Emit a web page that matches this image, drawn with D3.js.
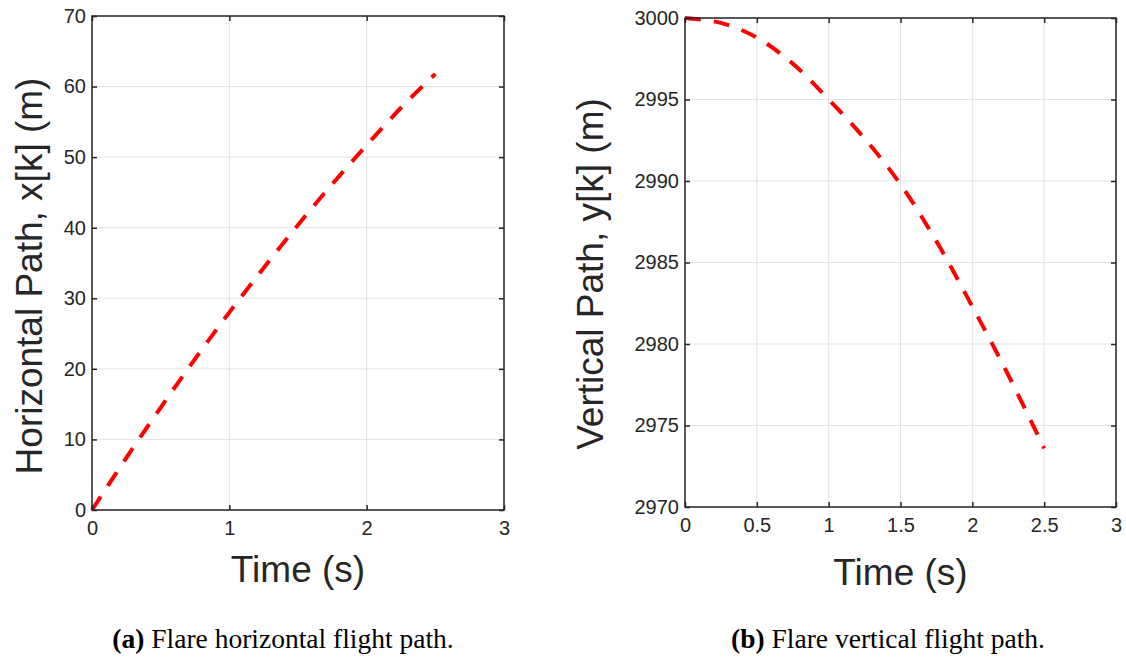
<!DOCTYPE html>
<html>
<head>
<meta charset="utf-8">
<script src="https://cdn.jsdelivr.net/npm/d3@7/dist/d3.min.js"></script>
<style>
  html, body { margin: 0; padding: 0; background: #fff; }
  svg { display: block; }
  .tick text { font-family: "Liberation Sans", Arial, sans-serif; }
</style>
</head>
<body>
<svg id="chart" width="1126" height="660"></svg>
<script>
// Flare trajectory samples, time in seconds
const time = [0, 0.25, 0.5, 0.75, 1.0, 1.25, 1.5, 1.75, 2.0, 2.25, 2.5];
// Horizontal position x[k] (m)
const horizontalPath = [0, 7.4, 14.5, 21.4, 28.0, 34.3, 40.4, 46.2, 51.7, 57.0, 61.8];
// Vertical position y[k] (m)
const verticalPath = [3000, 2999.7, 2998.8, 2997.2, 2995.0, 2992.6, 2989.8, 2986.3, 2982.3, 2978.1, 2973.6];

const leftXTicks = [0, 1, 2, 3];
const leftYTicks = [0, 10, 20, 30, 40, 50, 60, 70];
const rightXTicks = [0, 0.5, 1, 1.5, 2, 2.5, 3];
const rightYTicks = [2970, 2975, 2980, 2985, 2990, 2995, 3000];

const svg = d3.select("#chart");
const axisColor = "#262626";
const gridColor = "#e3e3e3";

function panel(opts) {
  const { box, xDomain, yDomain, xTicks, yTicks, xs, ys, yLabel, yLabelX, yLabelY, xLabelY, caption, captionTag, captionX } = opts;
  const x = d3.scaleLinear().domain(xDomain).range([box.left, box.right]);
  const y = d3.scaleLinear().domain(yDomain).range([box.bottom, box.top]);
  const g = svg.append("g");

  // grid
  g.append("g").selectAll("line").data(xTicks).join("line")
    .attr("x1", d => x(d)).attr("x2", d => x(d))
    .attr("y1", box.top).attr("y2", box.bottom)
    .attr("stroke", gridColor).attr("stroke-width", 1);
  g.append("g").selectAll("line").data(yTicks).join("line")
    .attr("x1", box.left).attr("x2", box.right)
    .attr("y1", d => y(d)).attr("y2", d => y(d))
    .attr("stroke", gridColor).attr("stroke-width", 1);

  // data line
  const pts = xs.map((t, i) => [t, ys[i]]);
  g.append("path").datum(pts)
    .attr("d", d3.line().x(d => x(d[0])).y(d => y(d[1])).curve(d3.curveCatmullRom))
    .attr("fill", "none").attr("stroke", "#ff0000")
    .attr("stroke-width", 4).attr("stroke-dasharray", "16,13");

  // axes with inward ticks on all four sides
  const fmt = d => String(d);
  const bottom = g.append("g").attr("transform", `translate(0,${box.bottom})`)
    .call(d3.axisBottom(x).tickValues(xTicks).tickFormat(fmt).tickSizeInner(-5).tickSizeOuter(0).tickPadding(11));
  const left = g.append("g").attr("transform", `translate(${box.left},0)`)
    .call(d3.axisLeft(y).tickValues(yTicks).tickFormat(fmt).tickSizeInner(-5).tickSizeOuter(0).tickPadding(6));
  const top = g.append("g").attr("transform", `translate(0,${box.top})`)
    .call(d3.axisTop(x).tickValues(xTicks).tickFormat("").tickSizeInner(-5).tickSizeOuter(0));
  const right = g.append("g").attr("transform", `translate(${box.right},0)`)
    .call(d3.axisRight(y).tickValues(yTicks).tickFormat("").tickSizeInner(-5).tickSizeOuter(0));
  [bottom, left, top, right].forEach(a => {
    a.select(".domain").remove();
    a.selectAll(".tick line").attr("stroke", axisColor).attr("stroke-width", 1.5);
    a.selectAll(".tick text").attr("fill", axisColor).attr("font-size", 20);
  });

  g.append("rect")
    .attr("x", box.left).attr("y", box.top)
    .attr("width", box.right - box.left).attr("height", box.bottom - box.top)
    .attr("fill", "none").attr("stroke", axisColor).attr("stroke-width", 1.5);

  // axis labels
  g.append("text")
    .attr("x", (box.left + box.right) / 2).attr("y", xLabelY)
    .attr("text-anchor", "middle")
    .attr("font-family", "'Liberation Sans', Arial, sans-serif")
    .attr("font-size", 37).attr("fill", axisColor)
    .text("Time (s)");
  g.append("text")
    .attr("transform", `translate(${yLabelX},${yLabelY}) rotate(-90)`)
    .attr("text-anchor", "middle")
    .attr("font-family", "'Liberation Sans', Arial, sans-serif")
    .attr("font-size", 37).attr("fill", axisColor)
    .text(yLabel);

  // caption
  const cap = g.append("text")
    .attr("x", captionX).attr("y", 648)
    .attr("text-anchor", "middle")
    .attr("font-family", "'Liberation Serif', 'Times New Roman', serif")
    .attr("font-size", 27.5).attr("fill", "#000");
  cap.append("tspan").attr("font-weight", "bold").text(captionTag);
  cap.append("tspan").text(" " + caption);
}

panel({
  box: { left: 92, right: 504, top: 16, bottom: 510 },
  xDomain: [0, 3], yDomain: [0, 70],
  xTicks: leftXTicks, yTicks: leftYTicks,
  xs: time, ys: horizontalPath,
  yLabel: "Horizontal Path, x[k] (m)", yLabelX: 42, yLabelY: 276, xLabelY: 582,
  captionTag: "(a)", caption: "Flare horizontal flight path.", captionX: 283
});

panel({
  box: { left: 685, right: 1116, top: 18, bottom: 507 },
  xDomain: [0, 3], yDomain: [2970, 3000],
  xTicks: rightXTicks, yTicks: rightYTicks,
  xs: time, ys: verticalPath,
  yLabel: "Vertical Path, y[k] (m)", yLabelX: 603, yLabelY: 274, xLabelY: 585,
  captionTag: "(b)", caption: "Flare vertical flight path.", captionX: 888
});
</script>
</body>
</html>
